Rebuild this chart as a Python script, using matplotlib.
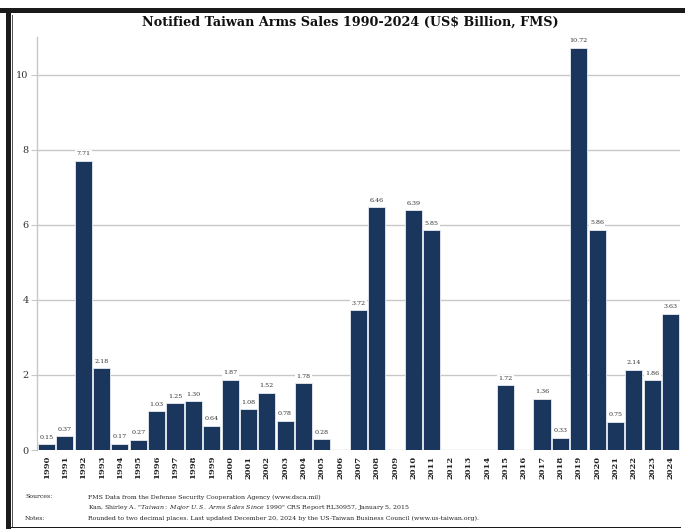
import numpy as np
import matplotlib.pyplot as plt
import matplotlib as mpl
from matplotlib.patches import Rectangle

mpl.rcParams['font.family'] = ['DejaVu Serif']
mpl.rcParams['mathtext.fontset'] = 'dejavuserif'

years = list(range(1990, 2025))
sales = [0.15, 0.37, 7.71, 2.18, 0.17, 0.27, 1.03, 1.25, 1.30, 0.64,
         1.87, 1.08, 1.52, 0.78, 1.78, 0.28, 0, 3.72, 6.46, 0,
         6.39, 5.85, 0, 0, 0, 1.72, 0, 1.36, 0.33, 10.72,
         5.86, 0.75, 2.14, 1.86, 3.63]
yticks = [0, 2, 4, 6, 8, 10]

navy = '#1b365d'
grid_c = '#c8c8c8'

fig = plt.figure(figsize=(6.85, 5.29), dpi=100)
ax = fig.add_axes([37/685, 1-450/529, 643/685, 413/529])

x = np.arange(len(years))
ax.bar(x, sales, width=0.93, color=navy, edgecolor='#e8ecf0', linewidth=0.6, zorder=2)
for xi, v in zip(x, sales):
    if v > 0:
        ax.text(xi, v + 0.12, f'{v:.2f}', ha='center', va='bottom', fontsize=4.6,
                color='#333333', zorder=3,
                bbox=dict(facecolor='white', edgecolor='none', pad=1))

ax.set_xlim(-0.52, len(years) - 0.48)
ax.set_ylim(0, 11)
ax.set_yticks(yticks)
ax.set_yticklabels([str(t) for t in yticks], fontsize=7, color='#333333')
ax.set_xticks(x)
ax.set_xticklabels([str(y) for y in years], rotation=90, fontsize=6,
                   fontweight='bold', color='#222222')
ax.yaxis.grid(True, color=grid_c, linewidth=1.0, zorder=0)
ax.set_axisbelow(True)
ax.tick_params(axis='y', length=4, color=grid_c, pad=2)
ax.tick_params(axis='x', length=0, pad=4)
for s in ['top', 'right', 'bottom']:
    ax.spines[s].set_visible(False)
ax.spines['left'].set_color(grid_c)
ax.spines['left'].set_linewidth(1.0)

fig.text(350/685, 1-22/529, 'Notified Taiwan Arms Sales 1990-2024 (US$ Billion, FMS)',
         ha='center', va='center', fontsize=9.2, fontweight='bold', color='#111111')

fs = 4.5
fig.text(25/685, 1-497/529, 'Sources:', fontsize=fs, va='center', color='#222222')
fig.text(88/685, 1-497/529, 'FMS Data from the Defense Security Cooperation Agency (www.dsca.mil)',
         fontsize=fs, va='center', color='#222222')
fig.text(88/685, 1-508/529,
         'Kan, Shirley A. "$\\it{Taiwan:\\ Major\\ U.S.\\ Arms\\ Sales\\ Since\\ 1990}$" CRS Report RL30957, January 5, 2015',
         fontsize=fs, va='center', color='#222222')
fig.text(25/685, 1-518/529, 'Notes:', fontsize=fs, va='center', color='#222222')
fig.text(88/685, 1-518/529,
         'Rounded to two decimal places. Last updated December 20, 2024 by the US-Taiwan Business Council (www.us-taiwan.org).',
         fontsize=fs, va='center', color='#222222')

# frame
fig.patches.append(Rectangle((0, 1-13/529), 1, 5/529, transform=fig.transFigure,
                             facecolor='#1a1a1a', edgecolor='none'))
fig.patches.append(Rectangle((6/685, 0), 5/685, 1-8/529, transform=fig.transFigure,
                             facecolor='#1a1a1a', edgecolor='none'))
fig.patches.append(Rectangle((12.5/685, 1/529), 0.8/685, 1-16/529, transform=fig.transFigure,
                             facecolor='#555555', edgecolor='none'))
fig.patches.append(Rectangle((6/685, 1/529), 675/685, 1.5/529, transform=fig.transFigure,
                             facecolor='#1a1a1a', edgecolor='none'))

plt.savefig('out.png', dpi=100)
